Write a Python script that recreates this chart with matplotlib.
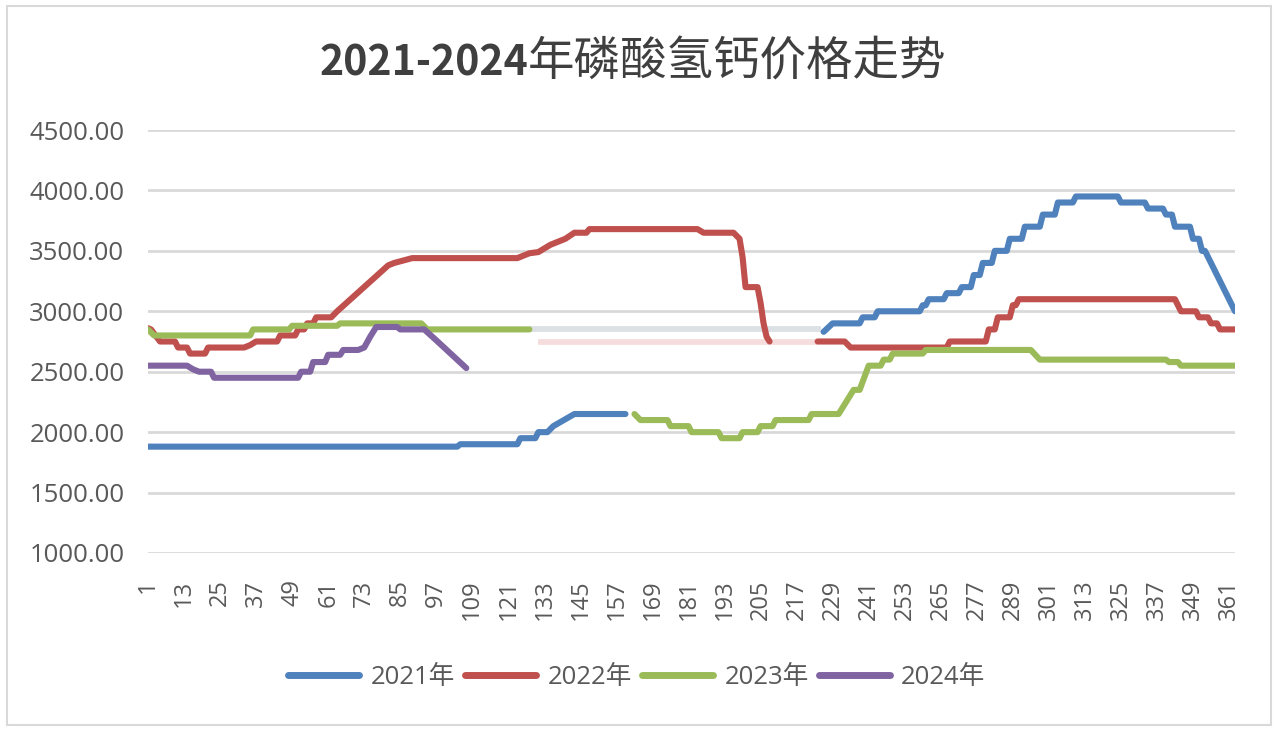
import numpy as np
import matplotlib
matplotlib.use('Agg')
import matplotlib.pyplot as plt
from matplotlib.lines import Line2D
from matplotlib.patches import Rectangle

plt.rcParams['font.family'] = ['Open Sans', 'Noto Sans CJK SC', 'DejaVu Sans']

nan = np.nan

# price curves: (day of year, price), nan = hidden by the blank patch
days_2021 = [1, 104, 105, 124, 125, 130, 131, 134, 136, 143, 160, nan,
             226, 229, 238, 239, 243, 244, 258, 259, 260, 261, 266, 267, 271, 272, 275,
             276, 278, 279, 282, 283, 287, 288, 292, 293, 298, 299, 303, 304, 309, 310,
             324, 325, 333, 334, 339, 340, 342, 343, 348, 349, 351, 352, 353, 355, 357,
             359, 361, 363]
price_2021 = [1880, 1880, 1900, 1900, 1950, 1950, 2000, 2000, 2050, 2150, 2150, nan,
              2830, 2900, 2900, 2950, 2950, 3000, 3000, 3050, 3050, 3100, 3100, 3150, 3150, 3200, 3200,
              3300, 3300, 3400, 3400, 3500, 3500, 3600, 3600, 3700, 3700, 3800, 3800, 3900, 3900, 3950,
              3950, 3900, 3900, 3850, 3850, 3800, 3800, 3700, 3700, 3600, 3600, 3500, 3500, 3400, 3300,
              3200, 3100, 3000]

days_2022 = [1, 2, 5, 10, 11, 14, 15, 20, 21, 33, 35, 37, 44, 45, 50, 51, 53, 54, 56, 57, 62, 64,
             81, 83, 89, 124, 128, 131, 135, 140, 143, 147, 148, 184, 186, 196, 198, 199, 200,
             204, 205, 206, 207, 208, nan,
             224, 233, 235, 267, 268, 280, 281, 283, 284, 288, 289, 290, 291, 343, 345, 350, 351,
             354, 355, 357, 358, 363]
price_2022 = [2860, 2850, 2750, 2750, 2700, 2700, 2650, 2650, 2700, 2700, 2720, 2750, 2750, 2800, 2800,
              2850, 2850, 2900, 2900, 2950, 2950, 3000,
              3380, 3400, 3440, 3440, 3480, 3490, 3550, 3600, 3650, 3650, 3680, 3680, 3650, 3650, 3600,
              3450, 3200, 3200, 3070, 2900, 2790, 2750, nan,
              2750, 2750, 2700, 2700, 2750, 2750, 2850, 2850, 2950, 2950, 3050, 3050, 3100, 3100, 3000,
              3000, 2950, 2950, 2900, 2900, 2850, 2850]

days_2023 = [1, 3, 35, 36, 48, 49, 64, 65, 92, 94, 128, nan,
             163, 165, 174, 175, 181, 182, 191, 192, 198, 199, 204, 205, 209, 210, 221, 222, 231,
             236, 238, 241, 245, 246, 248, 249, 259, 260, 295, 298, 340, 341, 344, 345, 363]
price_2023 = [2850, 2800, 2800, 2850, 2850, 2880, 2880, 2900, 2900, 2850, 2850, nan,
              2150, 2100, 2100, 2050, 2050, 2000, 2000, 1950, 1950, 2000, 2000, 2050, 2050, 2100, 2100,
              2150, 2150, 2350, 2350, 2550, 2550, 2600, 2600, 2650, 2650, 2680, 2680, 2600, 2600, 2580,
              2580, 2550, 2550]

days_2024 = [1, 14, 16, 18, 22, 23, 51, 52, 55, 56, 60, 61, 65, 66, 71, 73, 75, 77, 84, 85, 93, 97, 107]
price_2024 = [2550, 2550, 2520, 2500, 2500, 2450, 2450, 2500, 2500, 2580, 2580, 2640, 2640, 2680, 2680,
              2700, 2790, 2870, 2870, 2850, 2850, 2760, 2530]

# faint leftovers inside the blank patch
trace_grey_days = [128, 225]
trace_grey_price = [2850, 2850]
trace_pink_days = [131, 224]
trace_pink_price = [2750, 2750]

years = ['2021年', '2022年', '2023年', '2024年']
colors = ['#4f81bd', '#c0504d', '#9bbb59', '#8064a2']
series = [(days_2021, price_2021), (days_2022, price_2022),
          (days_2023, price_2023), (days_2024, price_2024)]

x_ticks = list(range(1, 362, 12))
y_ticks = [1000, 1500, 2000, 2500, 3000, 3500, 4000, 4500]

W, H = 1277, 731
fig = plt.figure(figsize=(W / 100, H / 100), dpi=100)
fig.patch.set_facecolor('white')
fig.add_artist(Rectangle((7 / W, 6 / H), 1 - 13 / W, 1 - 12 / H, transform=fig.transFigure,
                         fill=False, edgecolor='#d9d9d9', lw=1.5))

ax = fig.add_axes([148 / W, 1 - 553 / H, (1235 - 148) / W, (553 - 130) / H])

ax.plot(trace_grey_days, trace_grey_price, color='#a9b4bf', lw=4.2, alpha=0.4, solid_capstyle='butt')
ax.plot(trace_pink_days, trace_pink_price, color='#e8a0a0', lw=4.2, alpha=0.35, solid_capstyle='butt')

for (d, p), c in zip(series, colors):
    ax.plot(d, p, color=c, lw=4.4, solid_joinstyle='round', solid_capstyle='round')

ax.set_xlim(1, 363)
ax.set_ylim(1000, 4500)
ax.set_yticks(y_ticks)
ax.set_yticklabels([f'{v:.2f}' for v in y_ticks])
ax.set_xticks(x_ticks)
ax.set_xticklabels([str(v) for v in x_ticks], rotation=90)
ax.tick_params(axis='y', length=0, pad=17, labelsize=18.5, labelcolor='#595959')
ax.tick_params(axis='x', length=0, pad=19, labelsize=17, labelcolor='#595959')
ax.yaxis.grid(True, color='#d9d9d9', lw=2)
ax.set_axisbelow(True)
for s in ax.spines.values():
    s.set_visible(False)

# title: bold latin part + regular chinese part
split_x = 528 / W
fig.text(split_x, 1 - 76 / H, '2021-2024', ha='right', va='baseline', fontsize=29.5,
         fontweight='bold', color='#3f3f3f', family=['Noto Sans CJK SC'])
fig.text(split_x, 1 - 76 / H, '年磷酸氢钙价格走势', ha='left', va='baseline', fontsize=33.5,
         color='#3f3f3f', family=['Noto Sans CJK SC'])

handles = [Line2D([0], [0], color=c, lw=5, solid_capstyle='round') for c in colors]
fig.legend(handles, years, loc='center', bbox_to_anchor=(637 / W, 1 - 677 / H), ncol=4,
           frameon=False, fontsize=18.5, handlelength=2.75, handletextpad=0.45,
           columnspacing=0.4, labelcolor='#595959')

fig.savefig('out.png', dpi=100, facecolor='white')
